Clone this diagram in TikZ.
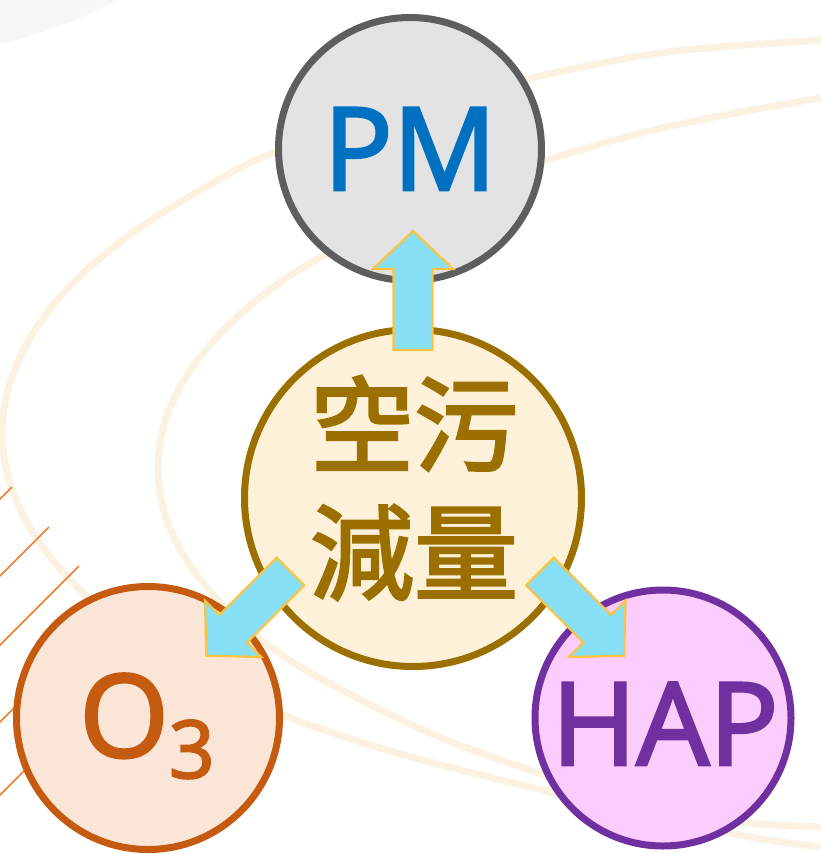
\documentclass[tikz,border=0pt]{standalone}
\usepackage{fontspec}
\setmainfont{Open Sans}
\newfontfamily\semib{Open Sans}[FakeBold=2.5]
\newfontfamily\cjk{Noto Sans CJK TC}[FakeBold=2.5]
\definecolor{arcc}{HTML}{FCF2E2}
\definecolor{cornerc}{HTML}{F7F7F7}
\definecolor{hatchc}{HTML}{ED7D31}
\definecolor{pmfill}{HTML}{E3E3E3}
\definecolor{pmline}{HTML}{5E5E5E}
\definecolor{pmtext}{HTML}{0070C0}
\definecolor{cfill}{HTML}{FEF1D9}
\definecolor{cline}{HTML}{9B6F00}
\definecolor{ofill}{HTML}{FBE5D6}
\definecolor{oline}{HTML}{C55A11}
\definecolor{hfill}{HTML}{FCCCFC}
\definecolor{hline}{HTML}{7030A0}
\definecolor{arrowfill}{HTML}{87E0F5}
\definecolor{arrowline}{HTML}{FBC440}
\begin{document}
\begin{tikzpicture}[x=1pt,y=-1pt,
  bgarc/.style={draw=arcc, line width=7pt},
  ring/.style={circle, line width=7pt, inner sep=0pt, minimum size=#1},
  barrow/.style={fill=arrowfill, draw=arrowline, line width=2.2pt, line join=miter},
  hatch/.style={draw=hatchc, line width=1.5pt},
  bigtxt/.style={font=\semib\fontsize{115}{115}\selectfont, inner sep=0pt, anchor=base}]
\useasboundingbox (0,0) rectangle (821,854);
\begin{scope}
\clip (0,0) rectangle (821,854);
\fill[cornerc] (-100,-400) circle (455);
% outer background arc
\draw[bgarc] plot[smooth,tension=0.55] coordinates {(900,33) (821,40) (667,52) (527,79) (400,112) (273,153) (206,187) (132,233) (73,283) (33,333) (10,383) (2,433) (10,483) (33,533) (73,583) (132,633) (206,679) (283,715) (397,753) (563,795) (740,835) (821,847) (900,857)};
% inner background arc
\draw[bgarc] plot[smooth,tension=0.55] coordinates {(900,90) (821,98) (667,127) (547,160) (420,206) (302,268) (236,318) (192,368) (166,418) (158,468) (166,518) (192,568) (236,618) (302,668) (430,733) (563,781) (650,805) (740,822) (821,827) (900,829)};
% orange hatch lines
\draw[hatch] (12,487) -- (-20,519);
\draw[hatch] (49,527) -- (-20,596);
\draw[hatch] (79,566) -- (-20,665);
\draw[hatch] (60,662) -- (-20,742);
\draw[hatch] (50,745) -- (-20,815);
\end{scope}
% circles
\node[ring=263, draw=pmline, fill=pmfill] (pm) at (410,149) {};
\node[ring=337, draw=cline, fill=cfill] (ctr) at (413,498) {};
\node[ring=263, draw=oline, fill=ofill] (o3) at (148,718) {};
\node[ring=256, draw=hline, fill=hfill] (hap) at (663,718) {};
% block arrows
\coordinate (aup) at (413,350);
\coordinate (aleft) at (290.5,571.5);
\coordinate (aright) at (540,571.5);
\draw[barrow, shift={(aup)}, rotate=90] (0,-19.5) -- (81,-19.5) -- (81,-40) -- (119,0) -- (81,40) -- (81,19.5) -- (0,19.5) -- cycle;
\draw[barrow, shift={(aleft)}, rotate=225] (0,-19.5) -- (81,-19.5) -- (81,-40) -- (119,0) -- (81,40) -- (81,19.5) -- (0,19.5) -- cycle;
\draw[barrow, shift={(aright)}, rotate=-45] (0,-19.5) -- (81,-19.5) -- (81,-40) -- (119,0) -- (81,40) -- (81,19.5) -- (0,19.5) -- cycle;
% texts
\node[bigtxt, text=pmtext] (pmt) at (410,190) {PM};
\node[bigtxt, text=hline] (hapt) at (665,765) {HAP};
\node[bigtxt, text=oline] (o3t) at (147,757) {O\raisebox{-21pt}{\fontsize{80}{80}\selectfont 3}};
\node[inner sep=0pt, text=cline, align=center, font=\cjk\fontsize{104}{128}\selectfont] (ctrt) at (414,488) {空污\\減量};
\end{tikzpicture}
\end{document}
